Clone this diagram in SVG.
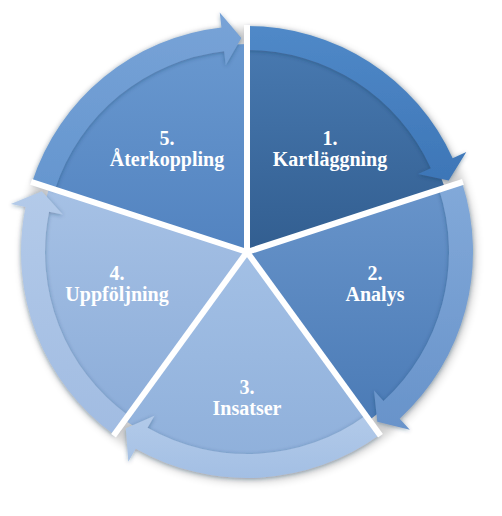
<svg xmlns="http://www.w3.org/2000/svg" width="502" height="516" viewBox="0 0 502 516">
<defs>
<linearGradient id="g1" x1="0" y1="0" x2="0" y2="1"><stop offset="0" stop-color="#4879b0"/><stop offset="1" stop-color="#325e90"/></linearGradient>
<linearGradient id="g2" x1="0" y1="0" x2="0" y2="1"><stop offset="0" stop-color="#6894ca"/><stop offset="1" stop-color="#4b7bb6"/></linearGradient>
<linearGradient id="g3" x1="0" y1="0" x2="0" y2="1"><stop offset="0" stop-color="#a3c0e5"/><stop offset="1" stop-color="#8fb0db"/></linearGradient>
<linearGradient id="g4" x1="0" y1="0" x2="0" y2="1"><stop offset="0" stop-color="#a6c1e5"/><stop offset="1" stop-color="#8cadd9"/></linearGradient>
<linearGradient id="g5" x1="0" y1="0" x2="0" y2="1"><stop offset="0" stop-color="#6998cf"/><stop offset="1" stop-color="#5283c0"/></linearGradient>
<linearGradient id="a1" x1="0" y1="0" x2="0" y2="1"><stop offset="0" stop-color="#5089c8"/><stop offset="1" stop-color="#3d76b7"/></linearGradient>
<linearGradient id="a2" x1="0" y1="0" x2="0" y2="1"><stop offset="0" stop-color="#82a9d9"/><stop offset="1" stop-color="#6893ca"/></linearGradient>
<linearGradient id="a3" x1="0" y1="0" x2="0" y2="1"><stop offset="0" stop-color="#b2cae9"/><stop offset="1" stop-color="#a3bfe4"/></linearGradient>
<linearGradient id="a4" x1="0" y1="0" x2="0" y2="1"><stop offset="0" stop-color="#b3cae9"/><stop offset="1" stop-color="#a1bce2"/></linearGradient>
<linearGradient id="a5" x1="0" y1="0" x2="0" y2="1"><stop offset="0" stop-color="#78a3d7"/><stop offset="1" stop-color="#6596cf"/></linearGradient>
<filter id="sh" x="-10%" y="-10%" width="120%" height="120%"><feDropShadow dx="0" dy="1" stdDeviation="2" flood-color="#1d3656" flood-opacity="0.4"/></filter>
<filter id="outer" x="-10%" y="-10%" width="120%" height="120%"><feGaussianBlur stdDeviation="4"/></filter>
<style>
.lbl{font-family:"Liberation Serif","Times New Roman",serif;font-weight:bold;font-size:20px;fill:#ffffff;text-anchor:middle}
.gap{stroke:#ffffff;stroke-width:6;stroke-linecap:butt}
.arrow{filter:url(#sh)}
</style>
</defs>
<rect width="502" height="516" fill="#ffffff"/>
<circle cx="249" cy="255" r="227" fill="#000" opacity="0.18" filter="url(#outer)"/>
<g id="node1">
<path d="M247,252 L247,44 A208,208 0 0 1 444.83,187.73 Z" fill="url(#g1)"/>
<path class="arrow" d="M247,26 A226,226 0 0 1 452.66,158.28 L466.31,152.06 L448.72,180.57 L418.08,174.04 L430.82,168.23 A202,202 0 0 0 247,50 Z" fill="url(#a1)"/>
<text class="lbl" x="330" y="145">1.</text>
<text class="lbl" x="330" y="166">Kartläggning</text>
</g>
<g id="node2">
<path d="M247,252 L444.83,187.73 A208,208 0 0 1 369.26,420.27 Z" fill="url(#g2)"/>
<path class="arrow" d="M461.95,182.17 A226,226 0 0 1 399.69,418.63 L409.82,429.69 L377.28,421.79 L374.01,390.61 L383.47,400.93 A202,202 0 0 0 439.12,189.58 Z" fill="url(#a2)"/>
<text class="lbl" x="375" y="280">2.</text>
<text class="lbl" x="375" y="301">Analys</text>
</g>
<g id="node3">
<path d="M247,252 L369.26,420.27 A208,208 0 0 1 124.74,420.27 Z" fill="url(#g3)"/>
<path class="arrow" d="M379.84,434.83 A226,226 0 0 1 135.72,448.71 L128.33,461.77 L125.79,428.36 L154.43,415.64 L147.54,427.82 A202,202 0 0 0 365.74,415.42 Z" fill="url(#a3)"/>
<text class="lbl" x="247" y="394">3.</text>
<text class="lbl" x="247" y="415">Insatser</text>
</g>
<g id="node4">
<path d="M247,252 L124.74,420.27 A208,208 0 0 1 49.17,187.73 Z" fill="url(#g4)"/>
<path class="arrow" d="M114.16,434.83 A226,226 0 0 1 25.54,206.94 L10.84,203.94 L41.82,191.22 L62.78,214.51 L49.06,211.72 A202,202 0 0 0 128.26,415.42 Z" fill="url(#a4)"/>
<text class="lbl" x="117" y="280">4.</text>
<text class="lbl" x="117" y="301">Uppföljning</text>
</g>
<g id="node5">
<path d="M247,252 L49.17,187.73 A208,208 0 0 1 247,44 Z" fill="url(#g5)"/>
<path class="arrow" d="M32.05,182.17 A226,226 0 0 1 221.42,27.45 L219.72,12.54 L241.39,38.06 L225.72,65.20 L224.13,51.29 A202,202 0 0 0 54.88,189.58 Z" fill="url(#a5)"/>
<text class="lbl" x="167" y="145">5.</text>
<text class="lbl" x="167" y="166">Återkoppling</text>
</g>
<g id="connectors">
<line class="gap" x1="247" y1="252" x2="247" y2="25"/>
<line class="gap" x1="247" y1="252" x2="463" y2="181.8"/>
<line class="gap" x1="247" y1="252" x2="380.5" y2="435.7"/>
<line class="gap" x1="247" y1="252" x2="113.5" y2="435.7"/>
<line class="gap" x1="247" y1="252" x2="31" y2="181.8"/>
</g>
</svg>
